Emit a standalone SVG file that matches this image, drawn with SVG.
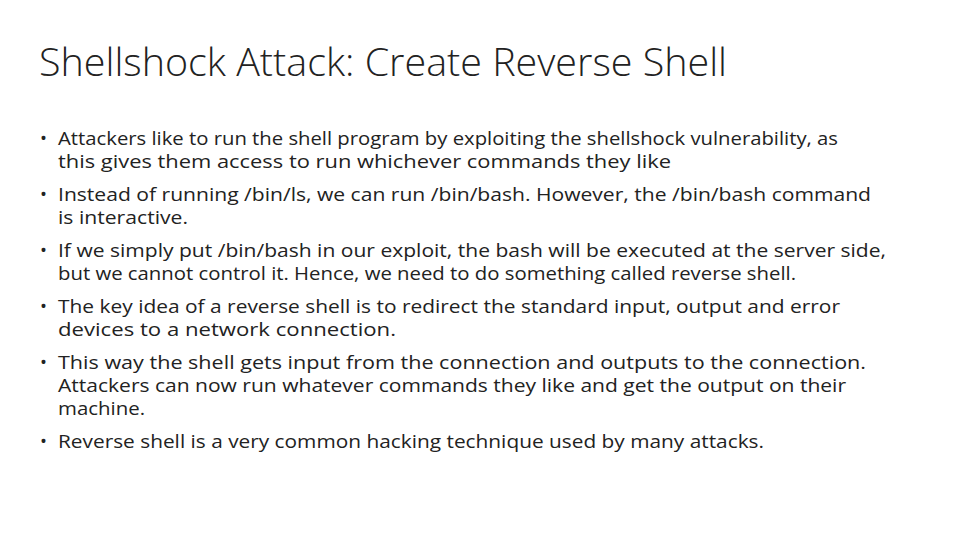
<svg xmlns="http://www.w3.org/2000/svg" width="960" height="540" viewBox="0 0 960 540">
<style>
.t{font-family:"Open Sans","Liberation Sans",sans-serif;fill:#222;}
.h{font-size:38px;font-weight:300;}
.b{font-size:18.5px;}
</style>
<rect width="960" height="540" fill="#fff"/>
<g id="title"><text class="t h" x="39" y="76" textLength="688" lengthAdjust="spacingAndGlyphs">Shellshock Attack: Create Reverse Shell</text></g>
<g id="bullets" class="t b">
<text x="40" y="145">•</text><text x="40" y="201">•</text><text x="40" y="257">•</text><text x="40" y="313">•</text><text x="40" y="369">•</text><text x="40" y="448">•</text>
<text x="58" y="145" textLength="780" lengthAdjust="spacingAndGlyphs">Attackers like to run the shell program by exploiting the shellshock vulnerability, as</text>
<text x="58" y="168" textLength="613" lengthAdjust="spacingAndGlyphs">this gives them access to run whichever commands they like</text>
<text x="58" y="201" textLength="813" lengthAdjust="spacingAndGlyphs">Instead of running /bin/ls, we can run /bin/bash. However, the /bin/bash command</text>
<text x="58" y="224" textLength="130" lengthAdjust="spacingAndGlyphs">is interactive.</text>
<text x="58" y="257" textLength="828" lengthAdjust="spacingAndGlyphs">If we simply put /bin/bash in our exploit, the bash will be executed at the server side,</text>
<text x="58" y="280" textLength="738" lengthAdjust="spacingAndGlyphs">but we cannot control it. Hence, we need to do something called reverse shell.</text>
<text x="58" y="313" textLength="782" lengthAdjust="spacingAndGlyphs">The key idea of a reverse shell is to redirect the standard input, output and error</text>
<text x="58" y="336" textLength="338" lengthAdjust="spacingAndGlyphs">devices to a network connection.</text>
<text x="58" y="369" textLength="808" lengthAdjust="spacingAndGlyphs">This way the shell gets input from the connection and outputs to the connection.</text>
<text x="58" y="392" textLength="788" lengthAdjust="spacingAndGlyphs">Attackers can now run whatever commands they like and get the output on their</text>
<text x="58" y="415" textLength="87" lengthAdjust="spacingAndGlyphs">machine.</text>
<text x="58" y="448" textLength="706" lengthAdjust="spacingAndGlyphs">Reverse shell is a very common hacking technique used by many attacks.</text>
</g>
</svg>
